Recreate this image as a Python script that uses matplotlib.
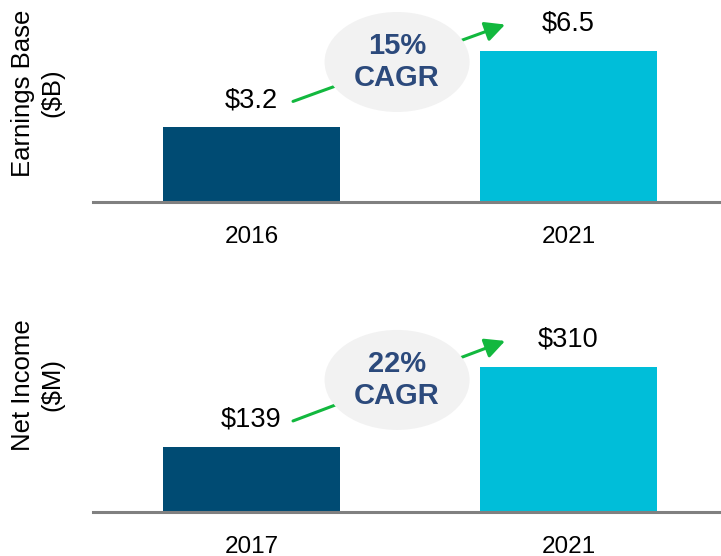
import matplotlib
matplotlib.use('Agg')
import matplotlib.pyplot as plt
import matplotlib.transforms as mtransforms
from matplotlib.patches import Ellipse

# データ
eb_years = ['2016', '2021']
eb_values = [3.2, 6.5]
eb_labels = ['$3.2', '$6.5']
eb_cagr = '15%\nCAGR'

ni_years = ['2017', '2021']
ni_values = [139, 310]
ni_labels = ['$139', '$310']
ni_cagr = '22%\nCAGR'

NAVY = '#004B73'
CYAN = '#00BED9'
GREEN = '#12B83E'
CAGR_TXT = '#2C4A7C'

plt.rcParams['font.family'] = ['Liberation Sans', 'DejaVu Sans']

fig = plt.figure(figsize=(7.21, 5.56), dpi=100)
W, H = 721, 556

def panel(bottom_px, ymax, years, values, labels, cagr, ylabel, label_y):
    ax = fig.add_axes([93 / W, bottom_px / H, 628 / W, 202 / H])
    x = [0, 1]
    ax.bar(x, values, width=0.558, color=[NAVY, CYAN], zorder=2)
    ax.set_xlim(-0.5, 1.481)
    ax.set_ylim(0, ymax)
    for s in ['top', 'right', 'left']:
        ax.spines[s].set_visible(False)
    ax.spines['bottom'].set_color('#808080')
    ax.spines['bottom'].set_linewidth(2.2)
    ax.set_yticks([])
    ax.set_xticks(x)
    ax.set_xticklabels(years, fontsize=17.5)
    ax.tick_params(axis='x', length=0, pad=17)
    ax.set_ylabel(ylabel, fontsize=18.5, linespacing=1.25)
    ax.yaxis.set_label_coords(-0.046, label_y)

    # 値ラベル
    for xi, v, lab in zip(x, values, labels):
        ax.annotate(lab, (xi, v), xytext=(0, 27), textcoords='offset pixels',
                    ha='center', va='center', fontsize=19.5)

    # 矢印（バー上のラベル横から次のラベル横へ）
    x1, x2 = 0.131, 0.80
    up = mtransforms.offset_copy(ax.transData, fig=fig, y=26, units='dots')
    ax.annotate('', xy=(x2, values[1]), xycoords=up,
                xytext=(x1, values[0]), textcoords=up,
                arrowprops=dict(arrowstyle='-|>,head_length=0.6,head_width=0.3',
                                mutation_scale=20, color=GREEN, lw=2.2,
                                shrinkA=0, shrinkB=0), zorder=3)

    # CAGR 楕円
    xm = (x1 + x2) / 2
    ym = (values[0] + values[1]) / 2
    trans = fig.dpi_scale_trans + mtransforms.ScaledTranslation(xm, ym, ax.transData)
    ax.add_patch(Ellipse((-0.02, 0.27), 1.45, 1.0, transform=trans,
                         facecolor='#F2F2F2', edgecolor='none',
                         zorder=4, clip_on=False))
    ax.text(-0.02, 0.27, cagr, transform=trans, ha='center', va='center',
            fontsize=21, fontweight='bold', color=CAGR_TXT,
            linespacing=1.15, zorder=5)
    return ax

panel(H - 202, 202 / 23.3, eb_years, eb_values, eb_labels, eb_cagr,
      'Earnings Base\n($B)', 0.54)
panel(H - 512, 202 / 0.468, ni_years, ni_values, ni_labels, ni_cagr,
      'Net Income\n($M)', 0.63)

fig.savefig('out.png', dpi=100)
